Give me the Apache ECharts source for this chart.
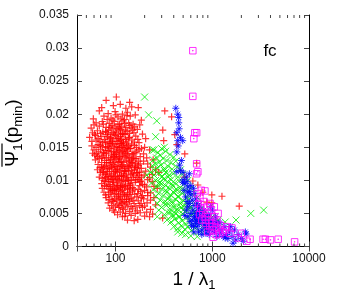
<!DOCTYPE html>
<html><head><meta charset="utf-8">
<script src="https://cdn.jsdelivr.net/npm/echarts@6/dist/echarts.min.js"></script>
<style>html,body{margin:0;padding:0;background:#fff;}#c{width:351px;height:300px;}</style>
</head><body><div id="c"></div>
<script>
// ---- data ----
const xTickLabels = [100, 1000, 10000];
const xMinorTicks = [50,60,70,80,90,200,300,400,500,600,700,800,900,2000,3000,4000,5000,6000,7000,8000,9000];
const yTicks = [0,0.005,0.01,0.015,0.02,0.025,0.03,0.035];

const redPoints = [
[80,0.0221],[102,0.0226],[140,0.0218],
[72,0.0210],[95,0.0213],[112,0.0215],[128,0.0209],[147,0.0211],[172,0.0210],[323,0.0205],
[68,0.0205],[84,0.0201],[99,0.0204],[118,0.0200],[133,0.0203],[160,0.0199],[380,0.0196],
[59,0.0193],[76,0.0197],[90,0.0194],[106,0.0196],[124,0.0192],[142,0.0197],[185,0.0191],
[63,0.0187],[73,0.0189],[86,0.0186],[97,0.0189],[110,0.0185],[120,0.0190],[137,0.0187],[152,0.0185],[178,0.0184],[308,0.0176],
[56,0.0179],[68,0.0182],[80,0.0180],[92,0.0183],[103,0.0178],[115,0.0182],[128,0.0180],[145,0.0179],[168,0.0177],
[58,0.0172],[65,0.0175],[74,0.0173],[85,0.0176],[95,0.0172],[108,0.0175],[118,0.0171],[132,0.0174],[155,0.0172],[190,0.0170],[410,0.0169],
[54,0.0165],[62,0.0168],[71,0.0166],[80,0.0169],[89,0.0165],[100,0.0168],[112,0.0166],[125,0.0169],[140,0.0165],[162,0.0167],[205,0.0163],
[63,0.0161],[69,0.0159],[77,0.0162],[86,0.0158],[94,0.0161],[104,0.0159],[116,0.0162],[130,0.0158],[148,0.0161],[175,0.0157],[315,0.0160],
[57,0.0152],[66,0.0154],[73,0.0151],[82,0.0155],[90,0.0152],[99,0.0154],[109,0.0150],[121,0.0155],[136,0.0152],[157,0.0153],[200,0.0150],[430,0.0154],
[61,0.0138],[60,0.0146],[70,0.0147],[78,0.0145],[87,0.0148],[95,0.0144],[105,0.0147],[114,0.0143],[127,0.0146],[143,0.0148],[166,0.0144],[225,0.0146],
[64,0.0140],[74,0.0137],[81,0.0141],[91,0.0138],[101,0.0140],[110,0.0136],[122,0.0141],[135,0.0138],[152,0.0140],[180,0.0136],[520,0.0140],
[62,0.0131],[68,0.0133],[77,0.0130],[85,0.0134],[94,0.0131],[103,0.0133],[115,0.0129],[128,0.0134],[145,0.0131],[163,0.0133],[195,0.0129],[245,0.0131],
[66,0.0124],[72,0.0127],[80,0.0123],[89,0.0126],[98,0.0122],[107,0.0127],[119,0.0124],[132,0.0121],[150,0.0126],[172,0.0123],[215,0.0125],[690,0.0126],
[65,0.0116],[75,0.0119],[83,0.0117],[92,0.0120],[101,0.0116],[112,0.0119],[124,0.0115],[138,0.0120],[157,0.0117],[185,0.0118],[260,0.0116],
[68,0.0105],[70,0.0112],[78,0.0109],[87,0.0113],[96,0.0110],[105,0.0112],[116,0.0108],[128,0.0113],[144,0.0109],[165,0.0111],[198,0.0108],[280,0.0112],
[73,0.0103],[82,0.0106],[90,0.0102],[99,0.0105],[109,0.0101],[121,0.0106],[134,0.0102],[152,0.0105],[175,0.0101],[225,0.0104],[520,0.0105],
[72,0.0095],[78,0.0098],[86,0.0094],[94,0.0099],[103,0.0096],[114,0.0093],[126,0.0098],[141,0.0095],[160,0.0097],[190,0.0094],[240,0.0098],[630,0.0099],[710,0.0093],
[73,0.0088],[81,0.0091],[89,0.0087],[98,0.0090],[108,0.0086],[119,0.0091],[133,0.0088],[150,0.0089],[172,0.0086],[210,0.0090],[270,0.0088],
[76,0.0082],[85,0.0079],[93,0.0084],[102,0.0080],[113,0.0083],[125,0.0078],[140,0.0082],[158,0.0079],[182,0.0083],[230,0.0081],[800,0.0082],
[80,0.0074],[90,0.0076],[98,0.0072],[107,0.0075],[118,0.0071],[131,0.0076],[147,0.0073],[166,0.0075],[195,0.0072],[250,0.0074],[990,0.0078],[1260,0.0076],
[84,0.0066],[95,0.0068],[104,0.0064],[114,0.0067],[126,0.0063],[140,0.0068],[156,0.0065],[178,0.0062],[212,0.0066],[880,0.0067],[990,0.0066],
[87,0.0058],[98,0.0052],[108,0.0059],[121,0.0056],[134,0.0060],[150,0.0057],[168,0.0054],[190,0.0059],[230,0.0056],[1900,0.0061],
[105,0.0048],[118,0.0045],[133,0.0040],[145,0.0047],[156,0.0039],[170,0.0041],[200,0.0046],[225,0.0045],[242,0.0049],[307,0.0043],
[83,0.0172],[88,0.0163],[93,0.0156],[97,0.0149],[102,0.0142],[107,0.0135],[111,0.0128],[117,0.0121],[123,0.0114],[129,0.0107],[136,0.0100],[143,0.0093],
[79,0.0158],[84,0.0151],[90,0.0143],[95,0.0136],[99,0.0128],[104,0.0121],[110,0.0114],[115,0.0107],[120,0.0100],[127,0.0093],[134,0.0086],[142,0.0079],
[76,0.0140],[80,0.0134],[86,0.0127],[91,0.0120],[96,0.0113],[100,0.0106],[106,0.0099],[112,0.0092],[118,0.0085],[124,0.0078],[130,0.0071],
[92,0.0178],[98,0.0170],[103,0.0163],[109,0.0156],[114,0.0150],[119,0.0143],[125,0.0136],[131,0.0129],[138,0.0122],[146,0.0115],[154,0.0108],[162,0.0101],
[106,0.0185],[113,0.0177],[120,0.0170],[127,0.0162],[134,0.0155],[141,0.0148],[148,0.0140],[155,0.0133],[162,0.0126],[170,0.0119],[178,0.0112],[186,0.0105],
[72,0.0120],[75,0.0112],[79,0.0104],[84,0.0098],[88,0.0091],[92,0.0085],[97,0.0079],[101,0.0086],[105,0.0092],[111,0.0072],[116,0.0065],
[82,0.0113],[88,0.0106],[94,0.0101],[113,0.0160],[118,0.0153],[124,0.0148],[131,0.0141],[139,0.0134],[147,0.0127],[158,0.0120],[168,0.0112],[180,0.0098],[200,0.0085],[215,0.0077],
[82,0.0192],[101,0.0199],[114,0.0193],[131,0.0198],[94,0.0191],
[60,0.0184],[75,0.0185],[88,0.0180],[99,0.0181],[111,0.0179],[124,0.0186],[140,0.0183],[158,0.0181],
[61,0.0170],[70,0.0171],[79,0.0174],[90,0.0170],[101,0.0173],[113,0.0170],[126,0.0176],[139,0.0171],[150,0.0176],
[57,0.0159],[66,0.0163],[74,0.0157],[83,0.0166],[92,0.0159],[107,0.0164],[121,0.0158],[136,0.0164],[156,0.0158],[170,0.0162],
[63,0.0150],[70,0.0153],[79,0.0150],[88,0.0156],[103,0.0151],[115,0.0156],[130,0.0150],[147,0.0155],[164,0.0150],[185,0.0148],
[58,0.0141],[67,0.0143],[75,0.0142],[84,0.0145],[98,0.0139],[109,0.0145],[118,0.0138],[133,0.0144],[159,0.0142],[175,0.0146],[195,0.0140],
[65,0.0136],[72,0.0134],[81,0.0127],[89,0.0131],[97,0.0135],[111,0.0132],[122,0.0127],[138,0.0129],[152,0.0135],[172,0.0129],[210,0.0134],
[69,0.0119],[77,0.0121],[86,0.0118],[95,0.0124],[104,0.0117],[115,0.0122],[126,0.0118],[143,0.0123],[162,0.0120],[180,0.0125],[230,0.0120],
[73,0.0114],[80,0.0110],[91,0.0108],[100,0.0114],[110,0.0106],[122,0.0110],[136,0.0114],[150,0.0111],[175,0.0108],[205,0.0114],[240,0.0109],
[76,0.0100],[85,0.0102],[95,0.0097],[104,0.0103],[116,0.0099],[131,0.0104],[146,0.0100],[168,0.0104],[185,0.0099],[215,0.0101],
[77,0.0092],[84,0.0087],[94,0.0093],[103,0.0088],[113,0.0089],[124,0.0090],[138,0.0092],[155,0.0087],[178,0.0092],[200,0.0093],[250,0.0091],
[79,0.0078],[88,0.0082],[97,0.0085],[107,0.0078],[120,0.0081],[134,0.0079],[150,0.0084],[170,0.0080],[190,0.0077],[215,0.0082],
[86,0.0071],[93,0.0069],[102,0.0070],[112,0.0075],[123,0.0068],[137,0.0072],[152,0.0070],[172,0.0069],[185,0.0074],[230,0.0070],
[91,0.0062],[100,0.0060],[111,0.0062],[118,0.0058],[130,0.0066],[145,0.0061],[162,0.0060],[184,0.0065],[200,0.0061],[260,0.0063],
[95,0.0055],[112,0.0052],[127,0.0050],[140,0.0053],[160,0.0050],[180,0.0051],[210,0.0052],[125,0.0046]
];

const greenPoints = [
[200,0.0226],[220,0.0199],[267,0.0190],[260,0.0166],[240,0.0146],[320,0.0150],[365,0.0139],
[250,0.0146],[275,0.0142],[300,0.0148],[330,0.0144],[400,0.0135],[290,0.0138],
[245,0.0131],[265,0.0134],[285,0.0128],[310,0.0133],[340,0.0130],[375,0.0127],[420,0.0129],[260,0.0125],
[240,0.0122],[270,0.0119],[295,0.0123],[320,0.0118],[350,0.0121],[385,0.0117],[430,0.0120],[470,0.0116],[255,0.0115],
[250,0.0108],[280,0.0111],[305,0.0106],[330,0.0112],[360,0.0108],[395,0.0110],[440,0.0105],[490,0.0109],[210,0.0108],[230,0.0112],
[260,0.0100],[285,0.0097],[315,0.0102],[345,0.0098],[375,0.0101],[410,0.0096],[455,0.0099],[510,0.0095],[560,0.0100],[235,0.0096],
[270,0.0090],[300,0.0087],[330,0.0092],[360,0.0088],[395,0.0091],[430,0.0086],[470,0.0089],[530,0.0085],[600,0.0088],[245,0.0086],
[280,0.0080],[310,0.0077],[340,0.0082],[370,0.0078],[405,0.0081],[445,0.0076],[490,0.0080],[550,0.0075],[620,0.0079],[700,0.0074],[260,0.0076],
[290,0.0070],[320,0.0067],[350,0.0072],[385,0.0068],[420,0.0071],[460,0.0066],[505,0.0069],[565,0.0064],[640,0.0068],[730,0.0063],[270,0.0065],
[300,0.0059],[335,0.0062],[365,0.0057],[400,0.0060],[440,0.0056],[480,0.0059],[530,0.0054],[590,0.0058],[660,0.0053],[760,0.0056],[850,0.0052],[280,0.0055],
[320,0.0048],[350,0.0051],[385,0.0047],[420,0.0050],[460,0.0045],[500,0.0049],[550,0.0044],[610,0.0047],[680,0.0043],[780,0.0046],[900,0.0042],
[270,0.0045],[340,0.0040],[375,0.0037],[410,0.0041],[450,0.0036],[490,0.0039],[530,0.0034],[580,0.0037],[640,0.0033],[720,0.0036],[820,0.0032],
[400,0.0030],[440,0.0027],[480,0.0031],[520,0.0026],[560,0.0029],[610,0.0024],[670,0.0028],[750,0.0023],[850,0.0026],
[440,0.0022],[485,0.0020],[530,0.0018],[600,0.0016],[700,0.0015],
[1360,0.0037],[1760,0.0040],[2500,0.0050],[3400,0.0055],[1000,0.0045],[1150,0.0040],[950,0.0035],
[300,0.0095],[330,0.0085],[360,0.0075],[390,0.0065],[420,0.0055],[450,0.0045],[350,0.0105],[380,0.0095],[410,0.0085],[440,0.0075],[470,0.0065],[500,0.0055],
[320,0.0115],[300,0.0105],[280,0.0095],[340,0.0066],[370,0.0052],[400,0.0046],[520,0.0062],[560,0.0070],[600,0.0060],[480,0.0085],[620,0.0050]
];

const bluePoints = [
[420,0.0209],[440,0.0200],[450,0.0187],[430,0.0172],[440,0.0160],[495,0.0160],[430,0.0143],[460,0.0123],[480,0.0130],[470,0.0115],[450,0.0195],[455,0.0178],[470,0.0165],[445,0.0152],
[500,0.0101],[520,0.0095],[540,0.0105],[560,0.0090],[585,0.0083],[560,0.0060],[510,0.0085],[530,0.0075],[550,0.0068],[600,0.0078],[620,0.0070],[580,0.0110],[500,0.0112],
[640,0.0088],[660,0.0080],[680,0.0072],[700,0.0065],[720,0.0058],[650,0.0062],[630,0.0055],[680,0.0050],[720,0.0045],[760,0.0052],[790,0.0040],[740,0.0035],[700,0.0030],[680,0.0040],[820,0.0033],[850,0.0028],[870,0.0038],[900,0.0024],[780,0.0025],[740,0.0060],[645,0.0022],[660,0.0045],[600,0.0050],[620,0.0040],
[920,0.0048],[950,0.0040],[980,0.0033],[1010,0.0027],[1050,0.0022],[1100,0.0035],[1150,0.0028],[1200,0.0020],[1250,0.0025],[1300,0.0015],[1350,0.0030],[1400,0.0018],[1450,0.0012],[1000,0.0055],[1080,0.0045],[930,0.0018],[1120,0.0015],[1500,0.0022],[960,0.0060],[1200,0.0036],
[1640,0.0005],[1600,0.0015],[1750,0.0010],[1850,0.0018],[2000,0.0012],[2240,0.0019],[1700,0.0025],[1550,0.0030],[2100,0.0008],
[430,0.0113],[560,0.0082],[660,0.0045],[1110,0.0037],[1360,0.0013],[2200,0.0022],[495,0.0097],
[560,0.0045],[590,0.0038],[610,0.0032],[640,0.0030],[670,0.0035],[710,0.0038],[750,0.0043],[800,0.0048],[830,0.0042],[880,0.0046],[860,0.0020],[900,0.0032],[940,0.0026],[1000,0.0038],[1050,0.0030],[780,0.0018],[720,0.0022],[820,0.0055],[700,0.0052],[580,0.0065],[540,0.0055],[520,0.0047],[600,0.0092],[550,0.0098]
];

const magentaPoints = [
[630,0.0296],[630,0.0227],[660,0.0172],[690,0.0172],[645,0.0163],[690,0.0125],[710,0.0113],[840,0.0084],[745,0.0073],[880,0.0060],[945,0.0030],[1360,0.0025],[1520,0.0020],[1850,0.0013],[2460,0.0011],[3350,0.0011],[3540,0.0011],[4000,0.0010],[4800,0.0011],[7100,0.0007],[2280,0.0008],[1020,0.0014],[1200,0.0019],[690,0.0110],
[720,0.0065],[760,0.0058],[800,0.0052],[820,0.0068],[850,0.0045],[900,0.0050],[930,0.0040],[960,0.0055],[990,0.0035],[1040,0.0045],[1080,0.0030],[1120,0.0038],[1160,0.0025],[1220,0.0032],[1280,0.0022],[1000,0.0025],[900,0.0022],[780,0.0040],[740,0.0048],[1100,0.0018],[1400,0.0030],[1600,0.0028],[2000,0.0020],[700,0.0080],[770,0.0085],[950,0.0065],[1150,0.0050],[860,0.0035],[1050,0.0060]
];

// ---- chart ----
const FONT = '"Liberation Sans", Arial, sans-serif';
const chart = echarts.init(document.getElementById('c'), null, {renderer: 'canvas'});
const mctx = document.createElement('canvas').getContext('2d');
function tw(t, size){ mctx.font = size + 'px ' + FONT; return mctx.measureText(t).width; }

function subLabel(segs){
  let total = 0; segs.forEach(s => total += tw(s[0], s[1]));
  let x = -total / 2; const kids = []; const pos = [];
  segs.forEach(s => {
    kids.push({type:'text', x: x, y: s[2] ? 5 : 0, style:{text:s[0], font: s[1] + 'px ' + FONT, fill:'#000', align:'left', verticalAlign:'middle'}});
    pos.push([x, tw(s[0], s[1])]);
    x += tw(s[0], s[1]);
  });
  return {kids, pos, total};
}

const yl = subLabel([['Ψ',19,0],['1',13,1],['(p',19,0],['min',13,1],[')',19,0]]);
yl.kids.push({type:'line', shape:{x1: yl.pos[0][0], y1:-11, x2: yl.pos[1][0] + yl.pos[1][1], y2:-11}, style:{stroke:'#000', lineWidth:1.2}});
const xl = subLabel([['1 / λ',19,0],['1',13,1]]);

const symPlus = 'path://M0,5L10,5M5,0L5,10';
const symCross = 'path://M0,0L10,10M10,0L0,10';
const symStar = 'path://M0,5L10,5M5,0L5,10M1.5,1.5L8.5,8.5M8.5,1.5L1.5,8.5';
const symBox = 'path://M0,0L10,0L10,10L0,10ZM4.5,4.5L5.5,4.5L5.5,5.5L4.5,5.5Z';

function sc(data, sym, col, size, bw){
  return {type:'scatter', data: data, symbol: sym, symbolSize: size, xAxisIndex:0, yAxisIndex:0,
    itemStyle:{color:'rgba(0,0,0,0)', borderColor: col, borderWidth: bw}, silent:true};
}
const isPow10 = v => Math.abs(Math.log10(v) - Math.round(Math.log10(v))) < 1e-6 && xTickLabels.includes(Math.round(v));
const axLine = {show:true, lineStyle:{color:'#000', width:1}};
const axTick = {show:true, inside:true, length:5, lineStyle:{color:'#444', width:1}};

chart.setOption({
  animation:false,
  grid:{left:77, right:42, top:15, bottom:53.5, containLabel:false, outerBoundsMode:'none'},
  xAxis:[
    {type:'log', logBase:10, min:40, max:10000, position:'bottom', axisLine:axLine, axisTick:axTick, splitLine:{show:false},
     axisLabel:{show:true, margin:6, color:'#111', fontSize:12, fontFamily:FONT, formatter: v => isPow10(v) ? String(Math.round(v)) : ''}},
    {type:'log', logBase:10, min:40, max:10000, position:'top', axisLine:axLine, axisTick:axTick, splitLine:{show:false}, axisLabel:{show:false}}
  ],
  yAxis:[
    {type:'value', min:yTicks[0], max:yTicks[yTicks.length-1], interval:0.005, position:'left', axisLine:axLine, axisTick:axTick, splitLine:{show:false},
     axisLabel:{show:true, margin:8, color:'#111', fontSize:12, fontFamily:FONT}},
    {type:'value', min:yTicks[0], max:yTicks[yTicks.length-1], interval:0.005, position:'right', axisLine:axLine, axisTick:axTick, splitLine:{show:false}, axisLabel:{show:false}}
  ],
  series:[
    sc(redPoints, symPlus, '#ff0000', 7, 1.2),
    sc(greenPoints, symCross, '#00ee00', 7, 1),
    sc(bluePoints, symStar, '#0000ff', 7, 1),
    sc(magentaPoints, symBox, '#ff00ff', 6.5, 1),
    {type:'custom', xAxisIndex:0, yAxisIndex:0, silent:true, clip:false, z:10,
     data: xMinorTicks.map(v => [v, 0]),
     renderItem: (params, api) => {
       const v = api.value(0);
       const b = api.coord([v, yTicks[0]]);
       const t = api.coord([v, yTicks[yTicks.length-1]]);
       return {type:'group', children:[
         {type:'line', shape:{x1:b[0], y1:b[1], x2:b[0], y2:b[1]-3}, style:{stroke:'#444', lineWidth:1}},
         {type:'line', shape:{x1:t[0], y1:t[1], x2:t[0], y2:t[1]+3}, style:{stroke:'#444', lineWidth:1}}
       ]};
     }}
  ],
  graphic:[
    {type:'group', x:13, y:133, rotation:Math.PI/2, children: yl.kids},
    {type:'group', x:194, y:280, children: xl.kids},
    {type:'text', x:270, y:51, style:{text:'fc', font:'17px ' + FONT, fill:'#000', align:'center', verticalAlign:'middle'}}
  ]
});
</script></body></html>
